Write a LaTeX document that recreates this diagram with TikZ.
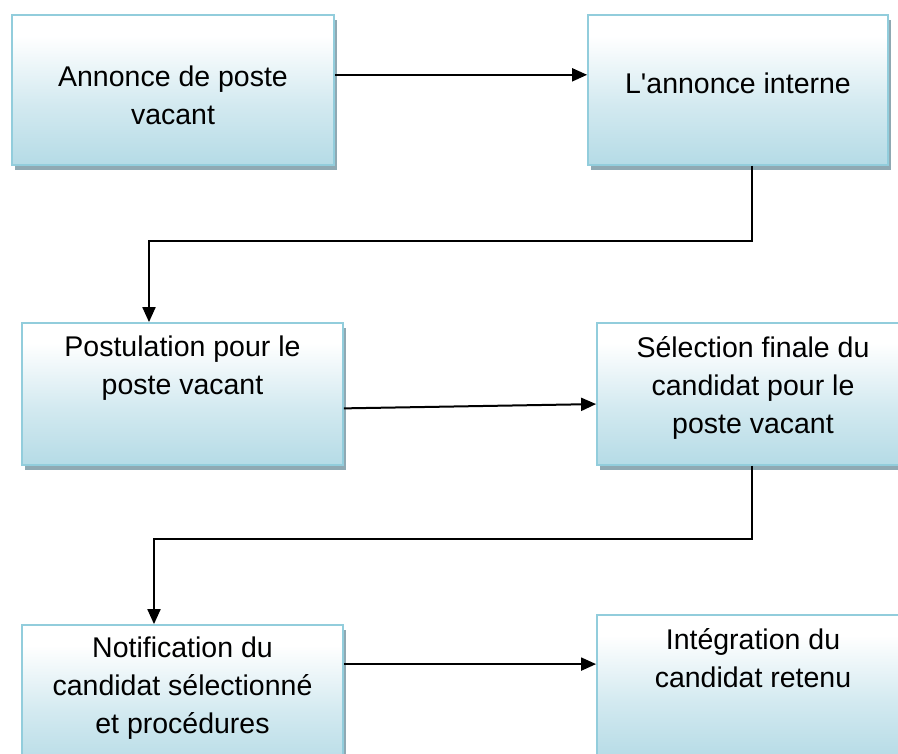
\documentclass[tikz,border=0pt]{standalone}
\usepackage{fontspec}
\setmainfont{Liberation Sans}[Ligatures=TeXOff]
\usetikzlibrary{arrows.meta,calc,shadows}
\definecolor{boxblue}{HTML}{B5DBE6}
\definecolor{boxedge}{HTML}{92CDDC}
\definecolor{shadowc}{HTML}{8FA9B3}
\pgfdeclareverticalshading{boxshade}{100bp}{color(0bp)=(boxblue); color(25bp)=(boxblue); color(45bp)=(boxblue!60!white); color(68bp)=(white); color(100bp)=(white)}
\tikzset{
  box/.style={rectangle, inner sep=0pt, draw=boxedge, line width=1.8pt, shading=boxshade,
    general shadow={fill=shadowc, shadow xshift=3pt, shadow yshift=-5pt}},
  lbl/.style={anchor=north, inner sep=0pt, align=center, font=\fontsize{28.5}{38}\selectfont,
    execute at begin node=\strut},
  conn/.style={draw=black, line width=2pt, -{Triangle[length=15pt,width=13pt]}}
}
\begin{document}
\begin{tikzpicture}[x=1pt,y=-1pt]
\useasboundingbox (0,0) rectangle (898,754);
\clip (0,0) rectangle (898,754);
\fill[white] (0,0) rectangle (898,754);
% boxes
\node[box, minimum width=322pt, minimum height=150pt] (b1) at (173,90) {};
\node[box, minimum width=300pt, minimum height=150pt] (b2) at (738,90) {};
\node[box, minimum width=321pt, minimum height=142pt] (b3) at (182.5,394) {};
\node[box, minimum width=312pt, minimum height=142pt] (b4) at (753,394) {};
\node[box, minimum width=321pt, minimum height=145pt] (b5) at (182.5,697.5) {};
\node[box, minimum width=312pt, minimum height=145pt] (b6) at (753,687.5) {};
% labels
\node[lbl] (t1) at (173,65.4) {Annonce de poste\\vacant};
\node[lbl] (t2) at (738,66.4) {L'annonce interne};
\node[lbl] (t3) at (182.5,335.4) {Postulation pour le\\poste vacant};
\node[lbl] (t4) at (753,336.4) {Sélection finale du\\candidat pour le\\poste vacant};
\node[lbl] (t5) at (182.5,636.4) {Notification du\\candidat sélectionné\\et procédures};
\node[lbl] (t6) at (753,628.4) {Intégration du\\candidat retenu};
% connectors
\draw[conn] ($(b1.north east)!0.4!(b1.south east)$) -- ($(b2.north west)!0.4!(b2.south west)$);
\draw[conn] ($(b2.south)+(14,0)$) -- ++(0,75) -| ($(b3.north)+(-33.5,0)$);
\draw[conn] ($(b3.north east)!0.6!(b3.south east)$) -- ($(b4.north west)!0.57!(b4.south west)$);
\draw[conn] ($(b4.south)+(-1,0)$) -- ++(0,73) -| ($(b5.north)+(-28.5,0)$);
\draw[conn] ($(b5.north east)+(0,40)$) -- ($(b6.north west)+(0,50)$);
\end{tikzpicture}
\end{document}
